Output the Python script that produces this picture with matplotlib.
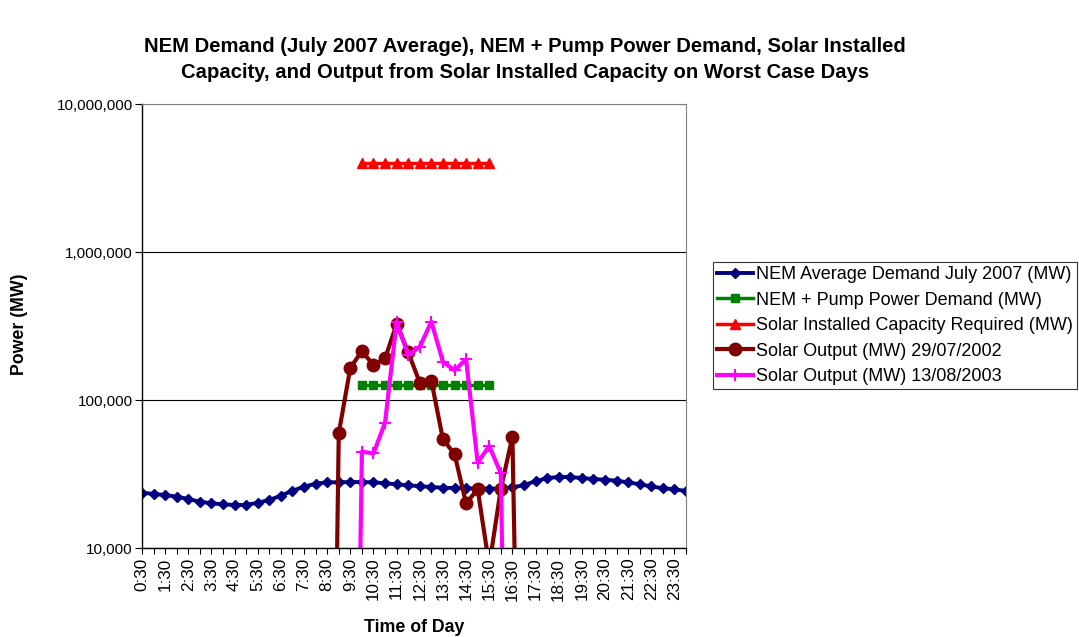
import numpy as np
import matplotlib
matplotlib.use("Agg")
import matplotlib.pyplot as plt
from matplotlib.ticker import FuncFormatter, FixedLocator

plt.rcParams['font.family'] = ['Liberation Sans', 'DejaVu Sans']

# half hour categories
times = ['0:30', '1:00', '1:30', '2:00', '2:30', '3:00', '3:30', '4:00', '4:30', '5:00',
         '5:30', '6:00', '6:30', '7:00', '7:30', '8:00', '8:30', '9:00', '9:30', '10:00',
         '10:30', '11:00', '11:30', '12:00', '12:30', '13:00', '13:30', '14:00', '14:30', '15:00',
         '15:30', '16:00', '16:30', '17:00', '17:30', '18:00', '18:30', '19:00', '19:30', '20:00',
         '20:30', '21:00', '21:30', '22:00', '22:30', '23:00', '23:30', '24:00']

nem_demand = [23640, 23170, 22800, 22230, 21430, 20550, 20040, 19720, 19530, 19530,
              20230, 21100, 22590, 24380, 25950, 27200, 27790, 27790, 27900, 27900,
              27790, 27370, 26940, 26500, 26200, 25830, 25550, 25430, 25300, 25200,
              25200, 25200, 25650, 26650, 28240, 29700, 30170, 30170, 29700, 29250,
              28940, 28490, 27790, 26930, 26100, 25300, 24930, 24270]

nan = np.nan
pump_demand = [nan]*19 + [126000]*12 + [nan]*17
solar_capacity = [nan]*19 + [3970000]*12 + [nan]*17

solar_2002 = [nan]*16 + [0.2, 59600, 165000, 214000, 172000, 191000, 326000, 210000,
                         131000, 135000, 54200, 43200, 20000, 25000, 7600, 25000,
                         56500, 5] + [nan]*14
solar_2003 = [nan]*18 + [0.5, 44700, 43600, 70300, 338000, 201000, 229000, 338000,
                         181000, 159000, 188000, 37700, 48900, 32000, 1] + [nan]*15

x = np.arange(len(times))

fig = plt.figure(figsize=(10.79, 6.37), dpi=100)
ax = fig.add_axes([142/1079, 89/637, 544/1079, 444/637])

ax.plot(x, nem_demand, color='#000080', lw=2.8, marker='D', ms=5,
        label='NEM Average Demand July 2007 (MW)')
ax.plot(x, pump_demand, color='#008000', lw=2.5, marker='s', ms=5.5,
        label='NEM + Pump Power Demand (MW)')
ax.plot(x, solar_capacity, color='#FF0000', lw=2.5, marker='^', ms=6.5,
        label='Solar Installed Capacity Required (MW)')
ax.plot(x, solar_2002, color='#800000', lw=3, marker='o', ms=9,
        label='Solar Output (MW) 29/07/2002')
ax.plot(x, solar_2003, color='#FF00FF', lw=3, marker='+', ms=8.5, mew=1.5,
        label='Solar Output (MW) 13/08/2003')

ax.set_yscale('log')
ax.set_ylim(10000, 10000000)
ax.set_xlim(0, len(times) - 1)
ax.yaxis.set_major_formatter(FuncFormatter(lambda v, p: '{:,.0f}'.format(v)))
ax.yaxis.set_minor_locator(FixedLocator([]))
ax.grid(axis='y', which='major', color='black', lw=0.8)
ax.set_axisbelow(True)

ax.set_xticks(x)
ax.set_xticklabels([t if i % 2 == 0 else '' for i, t in enumerate(times)],
                   rotation=90, fontsize=12.3)
ax.tick_params(axis='x', length=4, width=0.8, pad=3)
ax.tick_params(axis='y', length=5, width=0.8, pad=1.5, labelsize=11)

for s in ['top', 'right']:
    ax.spines[s].set_color('#808080')
ax.spines['left'].set_linewidth(1.0)
ax.spines['bottom'].set_linewidth(1.0)

fig.text(414/1079, 1 - 627/637, 'Time of Day', ha='center', va='center',
         fontsize=12.8, fontweight='bold')
fig.text(20/1079, 1 - 324/637, 'Power (MW)', ha='center', va='center',
         rotation=90, fontsize=12.8, fontweight='bold')

fig.text(525/1079, 1 - 47/637,
         'NEM Demand (July 2007 Average), NEM + Pump Power Demand, Solar Installed',
         ha='center', va='center', fontsize=14.6, fontweight='bold')
fig.text(525/1079, 1 - 73/637,
         'Capacity, and Output from Solar Installed Capacity on Worst Case Days',
         ha='center', va='center', fontsize=14.6, fontweight='bold')

leg = fig.legend(loc='upper left', bbox_to_anchor=(713/1079, 1 - 262/637),
                 fontsize=13, frameon=True, fancybox=False, handlelength=2.0,
                 handletextpad=0.17, borderpad=0.23, labelspacing=0.47,
                 borderaxespad=0)
leg.get_frame().set_edgecolor('black')
leg.get_frame().set_linewidth(0.8)

fig.savefig('out.png', dpi=100)
